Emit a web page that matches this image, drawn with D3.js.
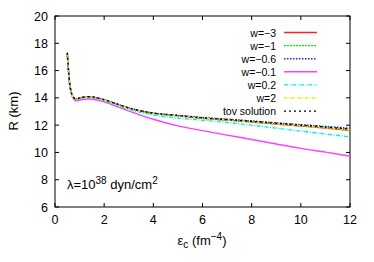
<!DOCTYPE html>
<head>
<meta charset="utf-8">
<script src="https://cdn.jsdelivr.net/npm/d3@7"></script>
<style>
  body { margin: 0; background: #fff; }
  text { font-family: "Liberation Sans", Arial, sans-serif; fill: #000; }
</style>
</head>
<body>
<svg id="chart" width="374" height="262"></svg>
<script>
// central energy density (fm^-4)
var eps = [0.5, 0.55, 0.6, 0.65, 0.7, 0.8, 0.9, 1.0, 1.2, 1.4, 1.6, 1.8, 2.0, 2.5, 3.0, 3.5, 4.0, 5, 6, 7, 8, 9, 10, 11, 12]

// radius R (km) for each w
var rW3   = [17.3, 16.0, 15.0, 14.5, 14.2, 13.95, 13.93, 13.98, 14.05, 14.07, 14.03, 13.95, 13.85, 13.55, 13.25, 13.02, 12.86, 12.68, 12.5, 12.37, 12.23, 12.08, 11.93, 11.78, 11.62]
var rW1   = [17.3, 16.0, 15.0, 14.5, 14.2, 13.95, 13.93, 13.98, 14.05, 14.07, 14.03, 13.95, 13.85, 13.55, 13.26, 13.03, 12.87, 12.7, 12.53, 12.4, 12.27, 12.12, 11.98, 11.84, 11.7]
var rW06  = [17.3, 16.0, 15.0, 14.5, 14.2, 13.96, 13.94, 13.99, 14.06, 14.08, 14.04, 13.96, 13.86, 13.56, 13.27, 13.05, 12.89, 12.72, 12.56, 12.44, 12.31, 12.17, 12.04, 11.91, 11.78]
var rW01  = [17.2, 15.9, 14.9, 14.4, 14.1, 13.82, 13.8, 13.84, 13.9, 13.92, 13.88, 13.8, 13.7, 13.38, 13.05, 12.72, 12.43, 11.95, 11.6, 11.27, 10.95, 10.62, 10.3, 10.02, 9.72]
var rW02  = [17.25, 15.95, 14.95, 14.45, 14.15, 13.92, 13.9, 13.95, 14.02, 14.04, 14.0, 13.91, 13.8, 13.48, 13.17, 12.93, 12.75, 12.52, 12.36, 12.2, 12.0, 11.78, 11.56, 11.35, 11.14]
var rW2   = [17.3, 16.0, 15.0, 14.5, 14.2, 13.95, 13.93, 13.98, 14.05, 14.07, 14.03, 13.95, 13.84, 13.54, 13.24, 13.01, 12.85, 12.68, 12.51, 12.38, 12.24, 12.1, 11.95, 11.8, 11.65]
var rTov  = [17.3, 16.0, 15.0, 14.5, 14.2, 13.96, 13.94, 13.99, 14.06, 14.08, 14.04, 13.96, 13.86, 13.56, 13.26, 13.04, 12.88, 12.71, 12.54, 12.41, 12.28, 12.14, 12.0, 11.86, 11.71]

var labels = ['w=\u22123', 'w=\u22121', 'w=\u22120.6', 'w=\u22120.1', 'w=0.2', 'w=2', 'tov solution']
var colors = ['#ff2020', '#00f000', '#2020ff', '#ff40ff', '#00f0f0', '#f0f000', '#000000']
var dashes = [null, '2,1', '1.5,1.5', null, '4,1.5,1,1.5', '3,1.5,1,1.5', '2,3']
var xTicks = [0, 2, 4, 6, 8, 10, 12]
var yTicks = [6, 8, 10, 12, 14, 16, 18, 20]

var series = [rW3, rW1, rW06, rW01, rW02, rW2, rTov]

var svg = d3.select('#chart')
var m = { left: 55, right: 350, top: 16, bottom: 207 }

var x = d3.scaleLinear().domain([0, 12]).range([m.left, m.right])
var y = d3.scaleLinear().domain([6, 20]).range([m.bottom, m.top])

// ticks, mirrored on all sides
var tl = 4
xTicks.forEach(function (t) {
  svg.append('line').attr('x1', x(t)).attr('x2', x(t)).attr('y1', m.bottom).attr('y2', m.bottom - tl).attr('stroke', '#000')
  svg.append('line').attr('x1', x(t)).attr('x2', x(t)).attr('y1', m.top).attr('y2', m.top + tl).attr('stroke', '#000')
  svg.append('text').attr('x', x(t)).attr('y', m.bottom + 17).attr('text-anchor', 'middle').style('font-size', '12.5px').text(t)
})
yTicks.forEach(function (t) {
  svg.append('line').attr('x1', m.left).attr('x2', m.left + tl).attr('y1', y(t)).attr('y2', y(t)).attr('stroke', '#000')
  svg.append('line').attr('x1', m.right).attr('x2', m.right - tl).attr('y1', y(t)).attr('y2', y(t)).attr('stroke', '#000')
  svg.append('text').attr('x', m.left - 7).attr('y', y(t) + 4.5).attr('text-anchor', 'end').style('font-size', '12.5px').text(t)
})

svg.append('rect')
  .attr('x', m.left).attr('y', m.top)
  .attr('width', m.right - m.left).attr('height', m.bottom - m.top)
  .attr('fill', 'none').attr('stroke', '#000')

var line = d3.line()
  .x(function (d, i) { return x(eps[i]) })
  .y(function (d) { return y(d) })
  .curve(d3.curveCatmullRom)

// legend
labels.forEach(function (lab, i) {
  var ly = 32.5 + i * 13.1
  svg.append('text').attr('x', 276).attr('y', ly + 4).attr('text-anchor', 'end').style('font-size', '10.5px').text(lab)
  svg.append('line').attr('x1', 284).attr('x2', 317).attr('y1', ly).attr('y2', ly)
    .attr('stroke', colors[i]).attr('stroke-width', 1.4).attr('stroke-dasharray', dashes[i])
})

series.forEach(function (s, i) {
  svg.append('path').datum(s).attr('d', line)
    .attr('fill', 'none').attr('stroke', colors[i])
    .attr('stroke-width', 1.4).attr('stroke-dasharray', dashes[i])
})

// annotation
var ann = svg.append('text').attr('x', 67).attr('y', 189).style('font-size', '13px')
ann.append('tspan').text('\u03bb=10')
ann.append('tspan').attr('dy', -5).style('font-size', '10px').text('38')
ann.append('tspan').attr('dy', 5).text(' dyn/cm')
ann.append('tspan').attr('dy', -5).style('font-size', '10px').text('2')

// axis titles
svg.append('text').attr('transform', 'translate(18,111) rotate(-90)').attr('text-anchor', 'middle').style('font-size', '13px').text('R (km)')
var xt = svg.append('text').attr('x', 202).attr('y', 245).attr('text-anchor', 'middle').style('font-size', '13px')
xt.append('tspan').text('\u03b5')
xt.append('tspan').attr('dy', 3).style('font-size', '10px').text('c')
xt.append('tspan').attr('dy', -3).text(' (fm')
xt.append('tspan').attr('dy', -5).style('font-size', '10px').text('\u22124')
xt.append('tspan').attr('dy', 5).text(')')
</script>
</body>
